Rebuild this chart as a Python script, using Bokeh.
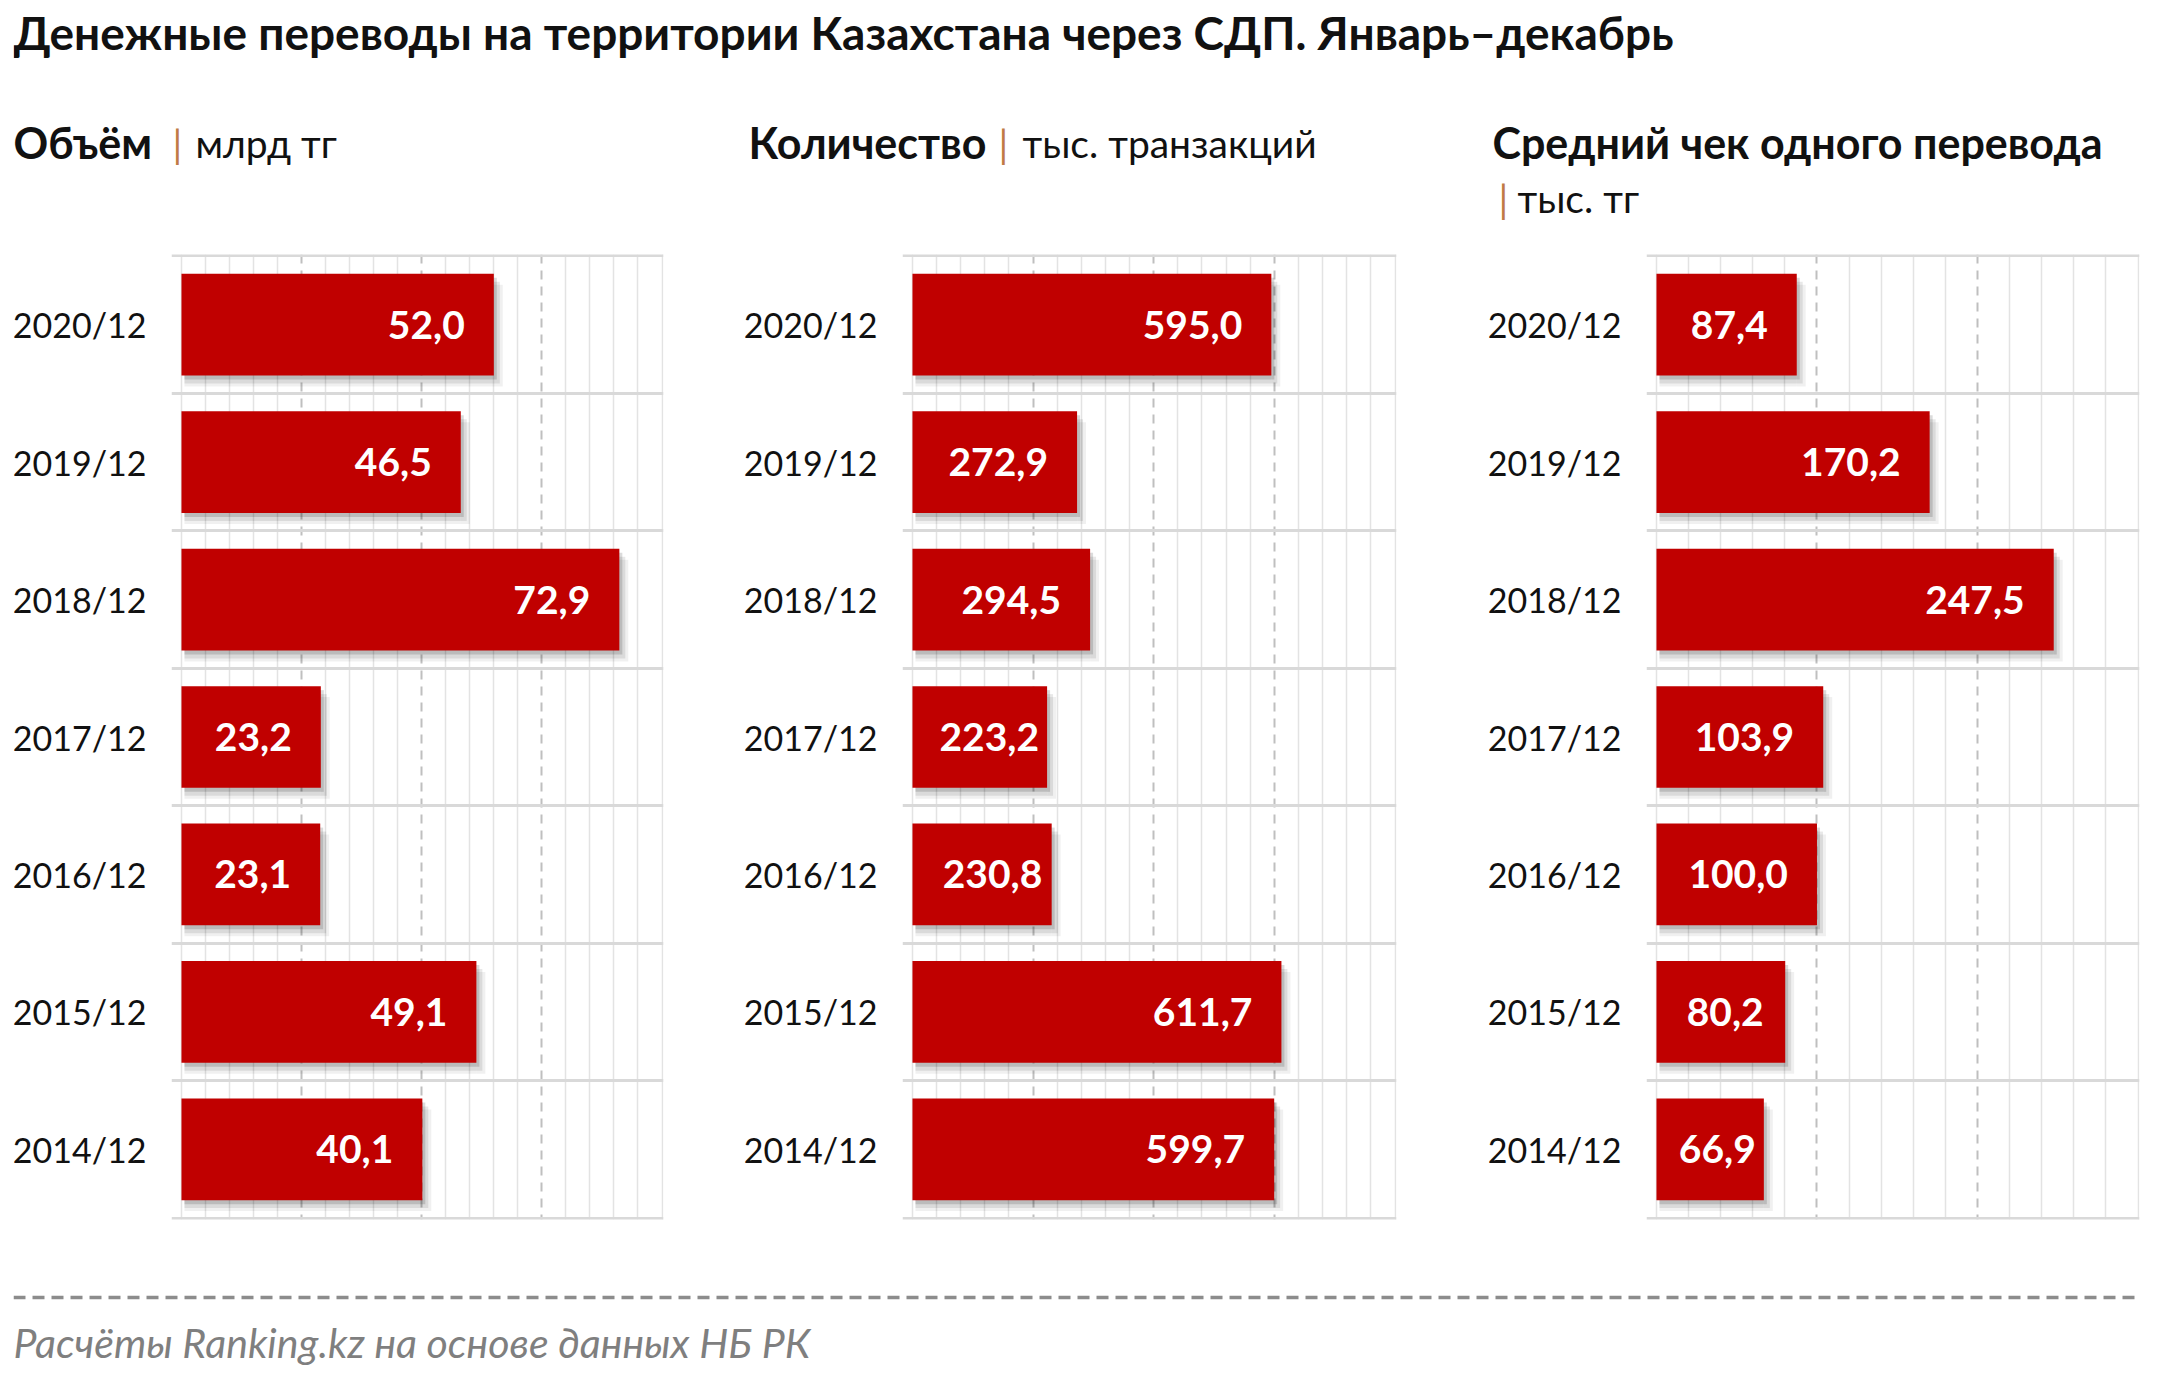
from bokeh.plotting import figure
from bokeh.models import Range1d, FixedTicker, Label, Span, ColumnDataSource
from bokeh.layouts import column, row
from bokeh.core.properties import value
from bokeh.transform import dodge
from bokeh.embed import file_html
from bokeh.resources import INLINE

# --- data ---
periods = ["2020/12", "2019/12", "2018/12", "2017/12", "2016/12", "2015/12", "2014/12"]
volume = [52.0, 46.5, 72.9, 23.2, 23.1, 49.1, 40.1]          # млрд тг
count = [595.0, 272.9, 294.5, 223.2, 230.8, 611.7, 599.7]    # тыс. транзакций
avg_check = [87.4, 170.2, 247.5, 103.9, 100.0, 80.2, 66.9]   # тыс. тг

volume_ticks = [0, 20, 40, 60, 80]
count_ticks = [0, 200, 400, 600, 800]
avg_ticks = [0, 100, 200, 300]

title = "Денежные переводы на территории Казахстана через СДП. Январь–декабрь"
source_note = "Расчёты Ranking.kz на основе данных НБ РК"

FONT = "Lato"
RED = "#c00000"
SEP = "#c07a45"
PANEL_H = 1002
FRAME_TOP = 25
FRAME_BOTTOM = 12
VAL_SIZE = 39


def panel(values, ticks, width, border_left, border_right):
    frame_w = width - border_left - border_right
    xmax = ticks[-1]
    px = (frame_w - 10) / xmax               # pixels per unit, zero sits 10px inside
    n = len(periods)
    frame_h = PANEL_H - FRAME_TOP - FRAME_BOTTOM
    py = frame_h / n                          # pixels per row

    p = figure(width=width, height=PANEL_H,
               x_range=Range1d(-10 / px, xmax + 1.5 / px),
               y_range=Range1d(n - 0.5 + 1.5 / py, -0.5 - 1.5 / py),
               min_border_left=border_left, min_border_right=border_right,
               min_border_top=FRAME_TOP, min_border_bottom=FRAME_BOTTOM,
               toolbar_location=None, output_backend="svg")
    p.outline_line_color = None
    p.background_fill_color = "white"
    p.border_fill_color = "white"
    p.xaxis.visible = False

    # vertical grid: dashed majors, light minors (incl. 0 and max)
    step = ticks[1] / 5
    inner = ticks[1:-1]
    minors = [i * step for i in range(int(round(xmax / step)) + 1) if i * step not in inner]
    p.xgrid.ticker = FixedTicker(ticks=inner, minor_ticks=minors)
    p.xgrid.grid_line_color = "#bfbfbf"
    p.xgrid.grid_line_width = 2
    p.xgrid.grid_line_dash = "9 7"
    p.xgrid.minor_grid_line_color = "#e3e3e3"
    p.xgrid.minor_grid_line_width = 1.5

    # horizontal separators between rows
    p.ygrid.ticker = FixedTicker(ticks=[i - 0.5 for i in range(n + 1)])
    p.ygrid.grid_line_color = "#d9d9d9"
    p.ygrid.grid_line_width = 3

    ys = list(range(n))
    p.yaxis.ticker = FixedTicker(ticks=ys)
    p.yaxis.major_label_overrides = {i: lab for i, lab in enumerate(periods)}
    p.yaxis.axis_line_color = None
    p.yaxis.major_tick_line_color = None
    p.yaxis.minor_tick_line_color = None
    p.yaxis.major_label_standoff = 19
    p.yaxis.major_label_text_font = FONT
    p.yaxis.major_label_text_font_size = "34px"
    p.yaxis.major_label_text_color = "#111111"

    labels = [f"{v:.1f}".replace(".", ",") for v in values]
    # label sits inside the bar end, but never closer than 30px to the bar start
    offsets = []
    for v, lab in zip(values, labels):
        w = VAL_SIZE * (0.58 * sum(c.isdigit() for c in lab) + 0.25)
        offsets.append(-min(29, max(8, v * px - 30 - w)))
    src = ColumnDataSource(dict(y=ys, v=values, lab=labels, off=offsets))

    # soft drop shadow
    for dx, dy, a in [(9, 11, 0.06), (6, 8, 0.09), (3, 4, 0.14)]:
        p.hbar(y=dodge("y", dy / py, range=p.y_range), left=dodge("v", 0, range=p.x_range),
               right=dodge("v", dx / px, range=p.x_range), height=0.74,
               fill_color="black", fill_alpha=a, line_color=None, source=src)
        p.hbar(y=dodge("y", dy / py, range=p.y_range), left=3 / px,
               right="v", height=0.74,
               fill_color="black", fill_alpha=a, line_color=None, source=src)
    p.hbar(y="y", left=0, right="v", height=0.74, fill_color=RED, line_color=None, source=src)
    p.text(x="v", y="y", text="lab", source=src, x_offset="off",
           text_align="right", text_baseline="middle", text_color="white",
           text_font=value(FONT), text_font_style="bold", text_font_size=f"{VAL_SIZE}px")
    return p


p1 = panel(volume, volume_ticks, 673, 171, 10)
p2 = panel(count, count_ticks, 733, 229, 10)
p3 = panel(avg_check, avg_ticks, 737, 240, 4)

# --- header: title and panel captions ---
HEAD_H = 229
header = figure(width=2144, height=HEAD_H, x_range=Range1d(0, 2126), y_range=Range1d(HEAD_H, 0),
                min_border_left=13, min_border_right=5, min_border_top=0, min_border_bottom=0,
                toolbar_location=None, output_backend="svg")
header.axis.visible = False
header.grid.visible = False
header.outline_line_color = None


def add_text(fig, x, y, text, size, style="normal", color="#111111"):
    fig.add_layout(Label(x=x, y=y, text=text, text_font=FONT, text_font_size=size,
                         text_font_style=style, text_color=color, text_baseline="middle"))


add_text(header, 0, 32, title, "46px", "bold")

captions = [
    (0, 142, "Объём", 159, 142, 182, "млрд тг"),
    (735, 142, "Количество", 985, 142, 1009, "тыс. транзакций"),
    (1479, 142, "Средний чек одного перевода", 1485, 197, 1504, "тыс. тг"),
]
for bx, by, bold, sx, sy, ux, unit in captions:
    add_text(header, bx, by, bold, "43px", "bold")
    add_text(header, sx, sy, "|", "39px", "normal", SEP)
    add_text(header, ux, sy, unit, "39px")

# --- footer: dashed rule and source ---
FOOT_H = 141
footer = figure(width=2144, height=FOOT_H, x_range=Range1d(0, 2126), y_range=Range1d(FOOT_H, 0),
                min_border_left=13, min_border_right=5, min_border_top=0, min_border_bottom=0,
                toolbar_location=None, output_backend="svg")
footer.axis.visible = False
footer.grid.visible = False
footer.outline_line_color = None
footer.add_layout(Span(location=66, dimension="width", line_color="#8c8c8c",
                       line_width=3.5, line_dash="12 7"))
add_text(footer, 0, 111, source_note, "41px", "italic", "#7f7f7f")

layout = column(header, row(p1, p2, p3), footer)

open("out.html", "w").write(file_html(layout, INLINE))
